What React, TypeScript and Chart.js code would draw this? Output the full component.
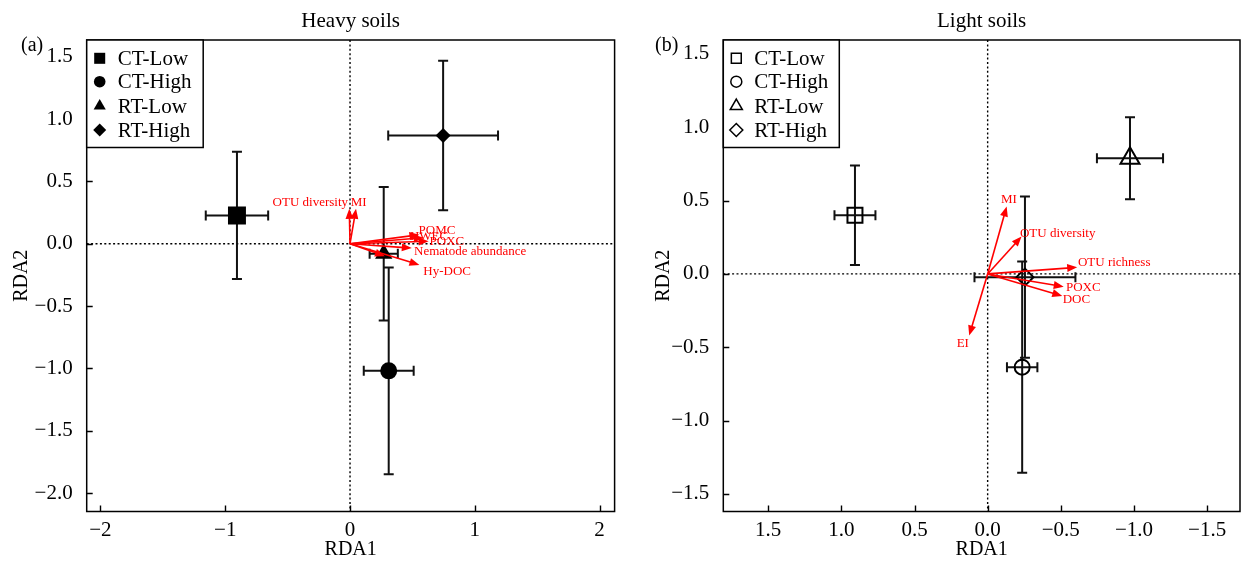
import React, { useEffect, useRef } from 'react';
import { Chart, registerables } from 'chart.js';
import { drawPoint } from 'chart.js/helpers';

Chart.register(...registerables);

const FONT = '"Liberation Serif", "Times New Roman", serif';

// groups (shared)
const groups = ['CT-Low', 'CT-High', 'RT-Low', 'RT-High'];
const markerStyles = ['rect', 'circle', 'triangle', 'rectRot'];

// (a) Heavy soils – sample scores (mean) and error
const heavyX = [-0.906, 0.31, 0.27, 0.746];
const heavyY = [0.227, -1.02, -0.08, 0.868];
const heavyErrX = [0.25, 0.2, 0.113, 0.44];
const heavyErrY = [0.51, 0.83, 0.535, 0.6];

// (a) Heavy soils – explanatory variable arrows
const heavyVars = ['OTU diversity', 'MI', 'POMC', 'HWEC', 'POXC', 'Nematode abundance', 'Hy-DOC', ''];
const heavyVarX = [-0.006, 0.048, 0.556, 0.59, 0.63, 0.495, 0.556, 0.28];
const heavyVarY = [0.28, 0.28, 0.072, 0.048, 0.02, -0.035, -0.17, -0.1];
const heavyLabelX = [-0.016, 0.006, 0.549, 0.48, 0.637, 0.513, 0.587, 0];
const heavyLabelY = [0.326, 0.326, 0.107, 0.059, 0.021, -0.067, -0.22, 0];
const heavyLabelAlign = ['right', 'left', 'left', 'left', 'left', 'left', 'left', 'left'];

// (b) Light soils – sample scores (mean) and error
const lightX = [0.907, -0.236, -0.973, -0.255];
const lightY = [0.4, -0.636, 0.789, -0.022];
const lightErrX = [0.14, 0.104, 0.226, 0.345];
const lightErrY = [0.34, 0.72, 0.28, 0.55];

// (b) Light soils – explanatory variable arrows
const lightVars = ['MI', 'OTU diversity', 'OTU richness', 'POXC', 'DOC', 'EI'];
const lightVarX = [-0.13, -0.232, -0.612, -0.52, -0.51, 0.126];
const lightVarY = [0.46, 0.255, 0.045, -0.087, -0.15, -0.42];
const lightLabelX = [-0.091, -0.221, -0.617, -0.535, -0.513, 0.212];
const lightLabelY = [0.509, 0.277, 0.077, -0.091, -0.172, -0.477];
const lightLabelAlign = ['left', 'left', 'left', 'left', 'left', 'left'];

const minus = (s: string) => s.replace('-', '\u2212');

type PanelCfg = {
  title: string;
  tag: string;
  xs: number[];
  ys: number[];
  ex: number[];
  ey: number[];
  filled: boolean;
  radii: number[];
  legendRadii: number[];
  vars: string[];
  vx: number[];
  vy: number[];
  lx: number[];
  ly: number[];
  la: string[];
  xMin: number;
  xMax: number;
  yMin: number;
  yMax: number;
  xStep: number;
  xDecimals: number;
  reverse: boolean;
  width: number;
  yWidth: number;
  padRight: number;
  yTitlePad: number;
  tagX: number;
  legendW: number;
};

function makePlugin(cfg: PanelCfg) {
  return {
    id: 'rdaDecor',
    beforeDatasetsDraw(chart: any) {
      const { ctx, chartArea: a } = chart;
      const xs = chart.scales.x;
      const ys = chart.scales.y;
      ctx.save();
      const zx = xs.getPixelForValue(0);
      const zy = ys.getPixelForValue(0);
      ctx.strokeStyle = '#000';
      ctx.lineWidth = 1.4;
      ctx.setLineDash([2, 2.4]);
      ctx.beginPath();
      ctx.moveTo(zx, a.top);
      ctx.lineTo(zx, a.bottom);
      ctx.moveTo(a.left, zy);
      ctx.lineTo(a.right, zy);
      ctx.stroke();
      ctx.setLineDash([]);
      ctx.lineWidth = 2;
      ctx.strokeStyle = '#111';
      const cap = 5;
      cfg.xs.forEach((v, i) => {
        const px = xs.getPixelForValue(v);
        const py = ys.getPixelForValue(cfg.ys[i]);
        const xl = xs.getPixelForValue(v - cfg.ex[i]);
        const xr = xs.getPixelForValue(v + cfg.ex[i]);
        const yt = ys.getPixelForValue(cfg.ys[i] + cfg.ey[i]);
        const yb = ys.getPixelForValue(cfg.ys[i] - cfg.ey[i]);
        ctx.beginPath();
        ctx.moveTo(xl, py);
        ctx.lineTo(xr, py);
        ctx.moveTo(xl, py - cap);
        ctx.lineTo(xl, py + cap);
        ctx.moveTo(xr, py - cap);
        ctx.lineTo(xr, py + cap);
        ctx.moveTo(px, yt);
        ctx.lineTo(px, yb);
        ctx.moveTo(px - cap, yt);
        ctx.lineTo(px + cap, yt);
        ctx.moveTo(px - cap, yb);
        ctx.lineTo(px + cap, yb);
        ctx.stroke();
      });
      ctx.restore();
    },
    afterDatasetsDraw(chart: any) {
      const { ctx } = chart;
      const xs = chart.scales.x;
      const ys = chart.scales.y;
      ctx.save();
      const x0 = xs.getPixelForValue(0);
      const y0 = ys.getPixelForValue(0);
      ctx.strokeStyle = '#ff0000';
      ctx.fillStyle = '#ff0000';
      ctx.lineWidth = 1.6;
      const L = 10;
      const W = 4;
      cfg.vx.forEach((v, i) => {
        const x1 = xs.getPixelForValue(v);
        const y1 = ys.getPixelForValue(cfg.vy[i]);
        const ang = Math.atan2(y1 - y0, x1 - x0);
        const c = Math.cos(ang);
        const s = Math.sin(ang);
        ctx.beginPath();
        ctx.moveTo(x0, y0);
        ctx.lineTo(x1 - c * L * 0.7, y1 - s * L * 0.7);
        ctx.stroke();
        ctx.beginPath();
        ctx.moveTo(x1, y1);
        ctx.lineTo(x1 - c * L - s * W, y1 - s * L + c * W);
        ctx.lineTo(x1 - c * L + s * W, y1 - s * L - c * W);
        ctx.closePath();
        ctx.fill();
      });
      ctx.font = `13px ${FONT}`;
      ctx.textBaseline = 'middle';
      cfg.vars.forEach((t, i) => {
        if (!t) return;
        ctx.textAlign = cfg.la[i];
        ctx.fillText(t, xs.getPixelForValue(cfg.lx[i]), ys.getPixelForValue(cfg.ly[i]));
      });
      ctx.restore();
    },
    afterDraw(chart: any) {
      const { ctx, chartArea: a } = chart;
      const xs = chart.scales.x;
      const ys = chart.scales.y;
      ctx.save();
      // inward ticks
      ctx.strokeStyle = '#000';
      ctx.lineWidth = 1.4;
      ctx.beginPath();
      xs.ticks.forEach((t: any) => {
        const px = Math.round(xs.getPixelForValue(t.value)) + 0.5;
        ctx.moveTo(px, a.bottom);
        ctx.lineTo(px, a.bottom - 6);
      });
      ys.ticks.forEach((t: any) => {
        const py = Math.round(ys.getPixelForValue(t.value)) + 0.5;
        ctx.moveTo(a.left, py);
        ctx.lineTo(a.left + 6, py);
      });
      ctx.stroke();
      // frame
      ctx.lineWidth = 1.5;
      ctx.strokeRect(a.left, a.top, a.right - a.left, a.bottom - a.top);
      // legend
      const lw = cfg.legendW;
      const lh = 107.5;
      ctx.fillStyle = '#fff';
      ctx.fillRect(a.left, a.top, lw, lh);
      ctx.strokeRect(a.left, a.top, lw, lh);
      const rowY = [18.3, 41.7, 66, 90];
      chart.data.datasets.forEach((ds: any, i: number) => {
        const cy = a.top + rowY[i];
        ctx.fillStyle = cfg.filled ? '#000' : 'rgba(0,0,0,0)';
        ctx.strokeStyle = '#000';
        ctx.lineWidth = cfg.filled ? 0.01 : 1.5;
        drawPoint(ctx, { pointStyle: ds.pointStyle, radius: cfg.legendRadii[i], rotation: 0, borderWidth: cfg.filled ? 0 : 1.5 } as any, a.left + 13, cy);
        ctx.fillStyle = '#000';
        ctx.font = `21px ${FONT}`;
        ctx.textAlign = 'left';
        ctx.textBaseline = 'middle';
        ctx.fillText(ds.label, a.left + 31, cy + 1);
      });
      // panel title
      ctx.fillStyle = '#000';
      ctx.font = `21px ${FONT}`;
      ctx.textAlign = 'center';
      ctx.textBaseline = 'middle';
      ctx.fillText(cfg.title, (a.left + a.right) / 2, 21);
      // tag
      ctx.font = `20px ${FONT}`;
      ctx.textAlign = 'left';
      ctx.fillText(cfg.tag, cfg.tagX, 46);
      ctx.restore();
    },
  };
}

function Panel({ cfg }: { cfg: PanelCfg }) {
  const ref = useRef<HTMLCanvasElement | null>(null);
  useEffect(() => {
    if (!ref.current) return;
    const tickFont = { family: FONT, size: 21 };
    const datasets = groups.map((g, i) => ({
      label: g,
      data: [{ x: cfg.xs[i], y: cfg.ys[i] }],
      pointStyle: markerStyles[i],
      pointRadius: cfg.radii[i],
      pointBackgroundColor: cfg.filled ? '#000' : 'rgba(0,0,0,0)',
      pointBorderColor: '#000',
      pointBorderWidth: cfg.filled ? 0 : 2,
      showLine: false,
    }));
    const zeroPad = (s: any) => {
      s.paddingLeft = 0;
      s.paddingRight = 0;
      s.paddingTop = 0;
      s.paddingBottom = 0;
    };
    const chart = new Chart(ref.current, {
      type: 'scatter',
      data: { datasets } as any,
      options: {
        animation: false,
        responsive: false,
        maintainAspectRatio: false,
        events: [],
        layout: { autoPadding: false, padding: { top: 40, right: cfg.padRight, left: 0, bottom: 0 } },
        plugins: {
          legend: { display: false },
          tooltip: { enabled: false },
          title: { display: false },
        },
        scales: {
          x: {
            type: 'linear',
            min: cfg.xMin,
            max: cfg.xMax,
            reverse: cfg.reverse,
            grid: { display: false },
            border: { display: false },
            ticks: {
              stepSize: cfg.xStep,
              includeBounds: false,
              autoSkip: false,
              maxRotation: 0,
              padding: -2,
              color: '#000',
              font: tickFont,
              callback: (v: any) => minus(Number(v).toFixed(cfg.xDecimals)),
            },
            title: {
              display: true,
              text: 'RDA1',
              color: '#000',
              font: { family: FONT, size: 20 },
              padding: { top: 0, bottom: 0 },
            },
            afterFit: (s: any) => {
              s.height = 50.5;
              zeroPad(s);
            },
          },
          y: {
            type: 'linear',
            min: cfg.yMin,
            max: cfg.yMax,
            grid: { display: false },
            border: { display: false },
            ticks: {
              stepSize: 0.5,
              includeBounds: false,
              autoSkip: false,
              padding: 6,
              color: '#000',
              font: tickFont,
              callback: (v: any) => minus(Number(v).toFixed(1)),
            },
            title: {
              display: true,
              text: 'RDA2',
              color: '#000',
              font: { family: FONT, size: 20 },
              padding: { top: cfg.yTitlePad, bottom: 0 },
            },
            afterFit: (s: any) => {
              s.width = cfg.yWidth;
              zeroPad(s);
            },
          },
        },
      } as any,
      plugins: [makePlugin(cfg) as any],
    });
    return () => chart.destroy();
  }, [cfg]);
  return <canvas ref={ref} width={cfg.width} height={562} style={{ display: 'block', width: cfg.width, height: 562 }} />;
}

const heavyCfg: PanelCfg = {
  title: 'Heavy soils',
  tag: '(a)',
  xs: heavyX,
  ys: heavyY,
  ex: heavyErrX,
  ey: heavyErrY,
  filled: true,
  radii: [12.7, 8.5, 10, 7.5],
  legendRadii: [7.8, 5.8, 7, 6.5],
  vars: heavyVars,
  vx: heavyVarX,
  vy: heavyVarY,
  lx: heavyLabelX,
  ly: heavyLabelY,
  la: heavyLabelAlign,
  xMin: -2.11,
  xMax: 2.12,
  yMin: -2.148,
  yMax: 1.634,
  xStep: 1,
  xDecimals: 0,
  reverse: false,
  width: 625,
  yWidth: 86.7,
  padRight: 10.4,
  yTitlePad: 10,
  tagX: 21,
  legendW: 116.5,
};

const lightCfg: PanelCfg = {
  title: 'Light soils',
  tag: '(b)',
  xs: lightX,
  ys: lightY,
  ex: lightErrX,
  ey: lightErrY,
  filled: false,
  radii: [10.6, 7.5, 11, 8.5],
  legendRadii: [7, 5.5, 7, 6.5],
  vars: lightVars,
  vx: lightVarX,
  vy: lightVarY,
  lx: lightLabelX,
  ly: lightLabelY,
  la: lightLabelAlign,
  xMin: -1.725,
  xMax: 1.807,
  yMin: -1.62,
  yMax: 1.595,
  xStep: 0.5,
  xDecimals: 1,
  reverse: true,
  width: 616,
  yWidth: 98.3,
  padRight: 1,
  yTitlePad: 27,
  tagX: 30,
  legendW: 116,
};

export default function App() {
  return (
    <div style={{ position: 'fixed', left: 0, top: 0, width: 1241, height: 562, background: '#fff', display: 'flex' }}>
      <Panel cfg={heavyCfg} />
      <Panel cfg={lightCfg} />
    </div>
  );
}
